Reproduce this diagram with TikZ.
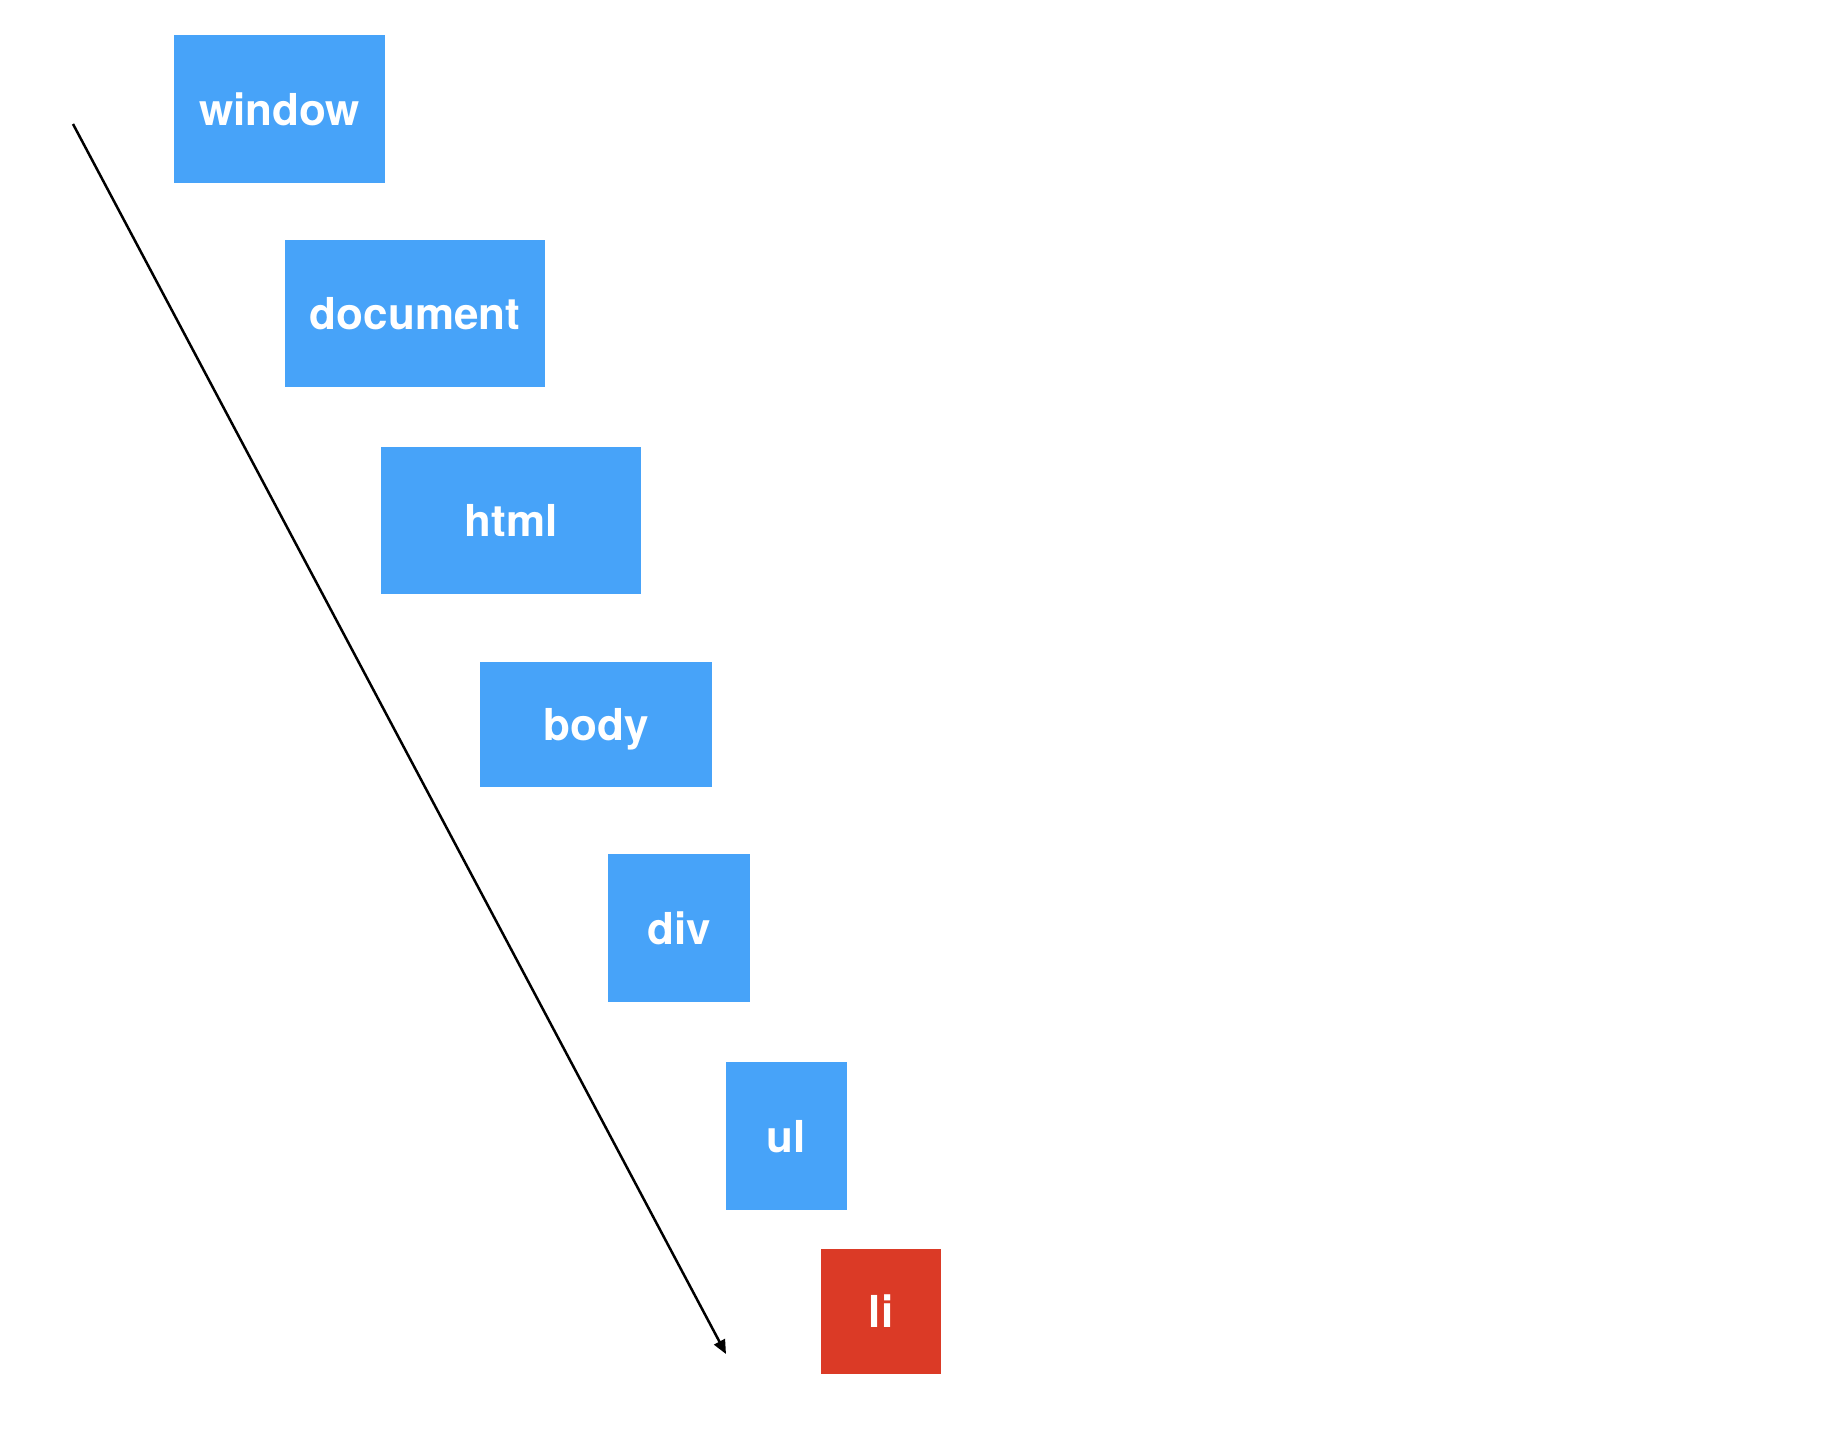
\documentclass[tikz,border=0pt]{standalone}
\usepackage{fontspec}
\setmainfont{TeX Gyre Heros}
\usetikzlibrary{arrows.meta}
\definecolor{boxblue}{RGB}{71,163,249}
\definecolor{boxred}{RGB}{219,58,38}
\tikzset{
  elem/.style={fill=boxblue, draw=none, inner sep=0pt, text=white,
    text height=32pt, text depth=0pt,
    font=\fontsize{44}{50}\selectfont\bfseries},
  target/.style={elem, fill=boxred},
  flow/.style={line width=2.5pt, -{Triangle[length=14pt,width=12pt]}}
}
\newcommand{\elembox}[6]{%
  \node[#1, minimum width={(#4-#3)*1pt}, minimum height={(#6-#5)*1pt}]
    (#2) at ({(#3+#4)/2}, {(#5+#6)/2}) {#2};}
\begin{document}
\begin{tikzpicture}[x=1pt, y=-1pt]
\useasboundingbox (0,0) rectangle (1822,1444);
\fill[white] (0,0) rectangle (1822,1444);
\elembox{elem}{window}{174}{385}{35}{183}
\elembox{elem}{document}{285}{545}{240}{387}
\elembox{elem}{html}{381}{641}{447}{594}
\elembox{elem}{body}{480}{712}{662}{787}
\elembox{elem}{div}{608}{750}{854}{1002}
\elembox{elem}{ul}{726}{847}{1062}{1210}
\elembox{target}{li}{821}{941}{1249}{1374}
\coordinate (start) at (73,124);
\coordinate (end) at (726,1354);
\draw[flow] (start) -- (end);
\end{tikzpicture}
\end{document}
